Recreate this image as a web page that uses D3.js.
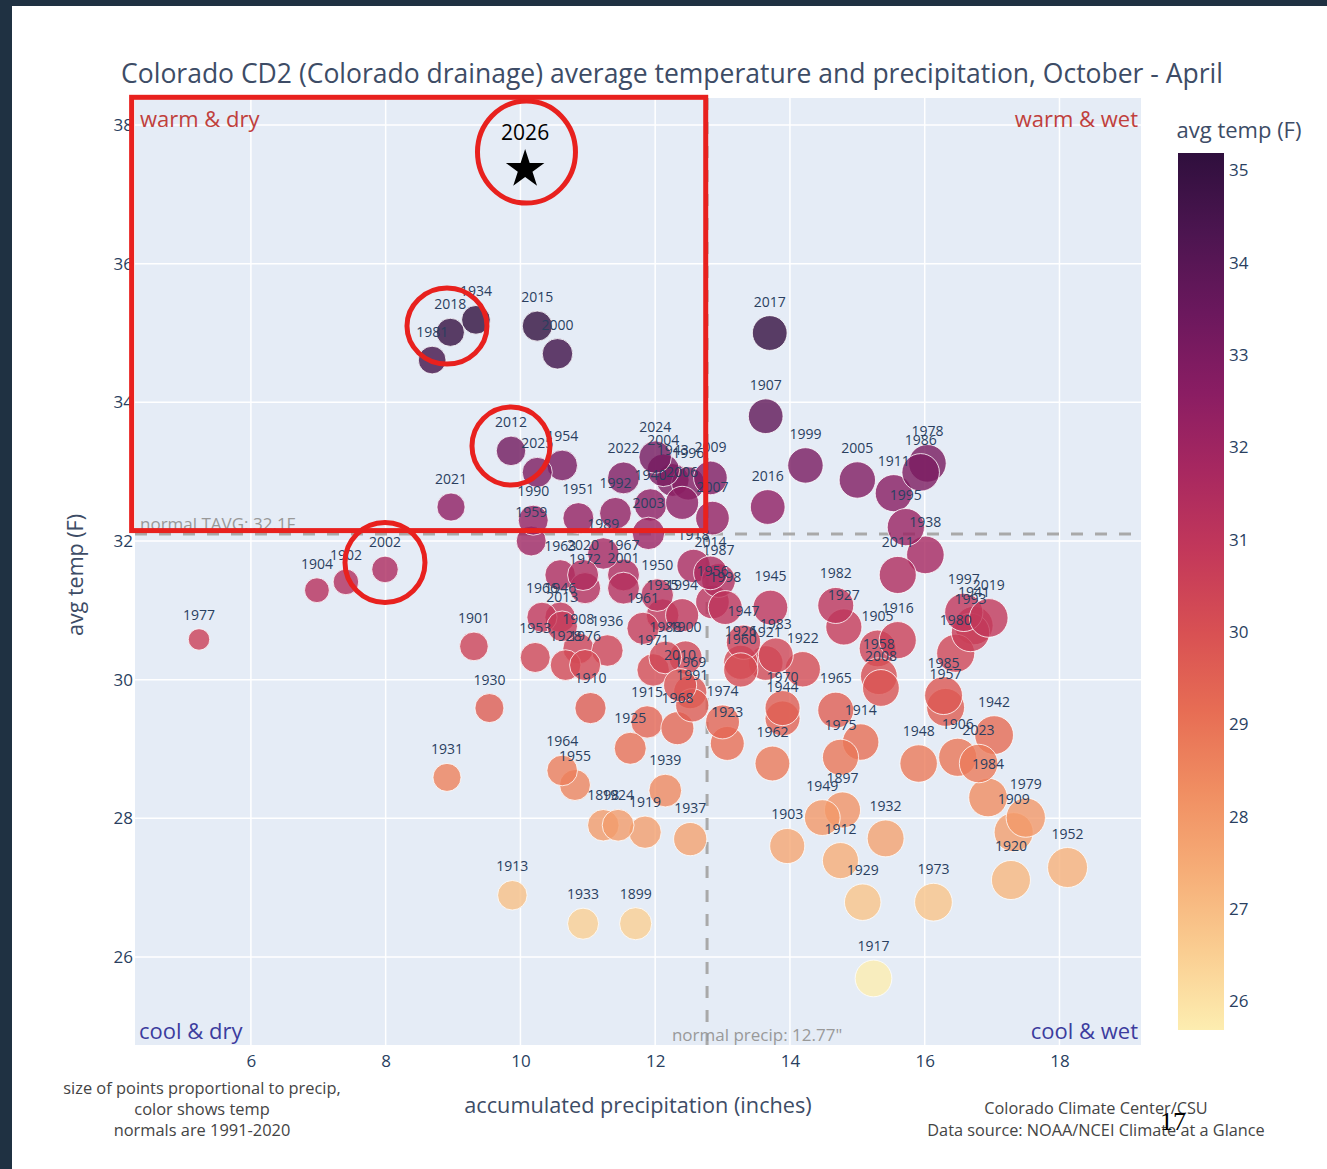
<!DOCTYPE html>
<html>
<head>
<meta charset="utf-8">
<script src="https://cdn.jsdelivr.net/npm/d3@7"></script>
<style>
  body { margin: 0; background: #fff; }
  svg { display: block; font-family: "Open Sans", sans-serif; }
</style>
</head>
<body>
<svg id="chart"></svg>
<script>
(function() {
  'use strict';

  // Season (Oct - Apr) values
  const years = [
    1897, 1898, 1899, 1900, 1901, 1902, 1903, 1904, 1905, 1906, 1907, 1908, 1909, 1910,
    1911, 1912, 1913, 1914, 1915, 1916, 1917, 1918, 1919, 1920, 1921, 1922, 1923, 1924,
    1925, 1926, 1927, 1928, 1929, 1930, 1931, 1932, 1933, 1934, 1935, 1936, 1937, 1938,
    1939, 1940, 1941, 1942, 1943, 1944, 1945, 1946, 1947, 1948, 1949, 1950, 1951, 1952,
    1953, 1954, 1955, 1956, 1957, 1958, 1959, 1960, 1961, 1962, 1963, 1964, 1965, 1966,
    1967, 1968, 1969, 1970, 1971, 1972, 1973, 1974, 1975, 1976, 1977, 1978, 1979, 1980,
    1981, 1982, 1983, 1984, 1985, 1986, 1987, 1988, 1989, 1990, 1991, 1992, 1993, 1994,
    1995, 1996, 1997, 1998, 1999, 2000, 2001, 2002, 2003, 2004, 2005, 2006, 2007, 2008,
    2009, 2010, 2011, 2012, 2013, 2014, 2015, 2016, 2017, 2018, 2019, 2020, 2021, 2022,
    2023, 2024, 2025
  ];
  const precip = [
    14.78, 11.23, 11.71, 12.45, 9.31, 7.41, 13.96, 6.98, 15.30, 16.49, 13.64, 10.86, 17.32, 11.04,
    15.54, 14.75, 9.88, 15.05, 11.88, 15.60, 15.24, 12.57, 11.85, 17.28, 13.64, 14.19, 13.07, 11.45,
    11.63, 13.27, 14.80, 10.67, 15.08, 9.54, 8.91, 15.42, 10.93, 9.34, 12.11, 11.29, 12.52, 16.01,
    12.15, 11.93, 16.73, 17.03, 12.26, 13.89, 13.71, 10.59, 13.31, 15.91, 14.48, 12.03, 10.86, 18.12,
    10.22, 10.62, 10.81, 12.85, 16.31, 15.32, 10.16, 13.27, 11.82, 13.74, 10.59, 10.62, 14.68, 10.32,
    11.53, 12.33, 12.52, 13.89, 11.97, 10.96, 16.13, 13.00, 14.75, 10.96, 5.23, 16.04, 17.50, 16.46,
    8.69, 14.68, 13.79, 16.94, 16.28, 15.94, 12.94, 12.15, 11.23, 10.19, 12.55, 11.41, 16.68, 12.40,
    15.72, 12.49, 16.58, 13.04, 14.23, 10.55, 11.53, 7.99, 11.90, 12.12, 15.00, 12.40, 12.85, 15.35,
    12.82, 12.37, 15.60, 9.86, 10.62, 12.82, 10.25, 13.67, 13.70, 8.96, 16.95, 10.93, 8.97, 11.53,
    16.80, 12.00, 10.25
  ];
  const avgTemp = [
    28.12, 27.90, 26.48, 30.32, 30.48, 31.41, 27.60, 31.29, 30.45, 28.88, 33.80, 30.45, 27.80, 29.59,
    32.69, 27.39, 26.89, 29.10, 29.39, 30.57, 25.69, 31.64, 27.80, 27.11, 30.24, 30.15, 29.08, 27.90,
    29.01, 30.25, 30.76, 30.21, 26.79, 29.59, 28.59, 27.71, 26.48, 35.19, 30.93, 30.42, 27.70, 31.80,
    28.40, 32.52, 30.78, 29.20, 32.88, 29.44, 31.04, 30.90, 30.54, 28.79, 28.01, 31.22, 32.33, 27.29,
    30.32, 33.09, 28.48, 31.12, 29.60, 30.05, 32.00, 30.14, 30.74, 28.79, 31.51, 28.69, 29.56, 30.90,
    31.51, 29.30, 29.82, 29.59, 30.14, 31.32, 26.79, 29.39, 28.88, 30.21, 30.58, 33.12, 28.01, 30.38,
    34.61, 31.07, 30.35, 28.30, 29.77, 32.99, 31.43, 30.32, 31.82, 32.30, 29.63, 32.40, 30.68, 30.93,
    32.20, 32.83, 30.97, 31.04, 33.09, 34.70, 31.32, 31.59, 32.11, 33.02, 32.88, 32.55, 32.33, 29.88,
    32.91, 29.92, 31.51, 33.30, 30.77, 31.54, 35.10, 32.49, 35.00, 35.01, 30.89, 31.51, 32.49, 32.91,
    28.79, 33.21, 32.99
  ];

  // Current season (star)
  const current = { year: 2026, precip: 10.07, temp: 37.39 };

  // Normals 1991-2020
  const normalTemp = 32.1;
  const normalPrecip = 12.77;

  const xTicks = [6, 8, 10, 12, 14, 16, 18];
  const yTicks = [26, 28, 30, 32, 34, 36, 38];
  const barTicks = [26, 27, 28, 29, 30, 31, 32, 33, 34, 35];

  // plotly "matter" colorscale
  const matter = ['rgb(253,237,176)', 'rgb(250,205,145)', 'rgb(246,173,119)', 'rgb(240,142,98)',
    'rgb(231,109,84)', 'rgb(216,80,83)', 'rgb(195,56,90)', 'rgb(168,40,96)', 'rgb(138,29,99)',
    'rgb(107,24,93)', 'rgb(76,21,80)', 'rgb(47,15,61)'];

  // Hand-drawn red highlights (in data units)
  const highlightBox = { x0: 4.23, x1: 12.75, y0: 32.15, y1: 38.4 };
  const highlightRings = [
    { x: 10.09, y: 37.61, rx: 49, ry: 51 },
    { x: 8.91, y: 35.10, rx: 40, ry: 38 },
    { x: 9.86, y: 33.37, rx: 39, ry: 39 },
    { x: 7.99, y: 31.69, rx: 40, ry: 40 }
  ];

  const WIDTH = 1327, HEIGHT = 1169;
  const plot = { left: 135, right: 1141, top: 98, bottom: 1045 };
  const FONT_COLOR = '#2a3f5f';

  const svg = d3.select('#chart')
    .attr('width', WIDTH)
    .attr('height', HEIGHT);

  // slide frame
  svg.append('rect').attr('width', WIDTH).attr('height', HEIGHT).attr('fill', '#fff');
  svg.append('rect').attr('width', WIDTH).attr('height', 6).attr('fill', '#1f3142');
  svg.append('rect').attr('width', 12).attr('height', HEIGHT).attr('fill', '#1f3142');

  const x = d3.scaleLinear().domain([4.28, 19.21]).range([plot.left, plot.right]);
  const y = d3.scaleLinear().domain([24.73, 38.39]).range([plot.bottom, plot.top]);
  const r = d3.scaleSqrt().domain([0, d3.max(precip)]).range([0, 20]);

  const tExtent = d3.extent(avgTemp);
  const color = d3.scaleLinear()
    .domain(matter.map(function(c, i) { return tExtent[0] + i * (tExtent[1] - tExtent[0]) / (matter.length - 1); }))
    .range(matter)
    .interpolate(d3.interpolateRgb);

  const points = years.map(function(yr, i) {
    return { year: yr, precip: precip[i], temp: avgTemp[i] };
  });

  // Plot background and grid
  svg.append('rect')
    .attr('x', plot.left).attr('y', plot.top)
    .attr('width', plot.right - plot.left).attr('height', plot.bottom - plot.top)
    .attr('fill', '#e5ecf6');

  const grid = svg.append('g').attr('class', 'grid');
  grid.selectAll('line.v').data(xTicks).join('line')
    .attr('class', 'v')
    .attr('x1', d => x(d)).attr('x2', d => x(d))
    .attr('y1', plot.top).attr('y2', plot.bottom)
    .attr('stroke', '#fff').attr('stroke-width', 1.5);
  grid.selectAll('line.h').data(yTicks).join('line')
    .attr('class', 'h')
    .attr('y1', d => y(d)).attr('y2', d => y(d))
    .attr('x1', plot.left).attr('x2', plot.right)
    .attr('stroke', '#fff').attr('stroke-width', 1.5);

  // Axes (d3 axes, domain path and tick lines hidden)
  const xAxis = svg.append('g')
    .attr('transform', 'translate(0,' + (plot.bottom + 4) + ')')
    .call(d3.axisBottom(x).tickValues(xTicks).tickSize(0).tickPadding(6));
  const yAxis = svg.append('g')
    .attr('transform', 'translate(' + (plot.left - 2) + ',0)')
    .call(d3.axisLeft(y).tickValues(yTicks).tickSize(0).tickPadding(0));
  [xAxis, yAxis].forEach(function(a) {
    a.select('.domain').remove();
    a.selectAll('text')
      .attr('fill', FONT_COLOR)
      .style('font-family', '"Open Sans", sans-serif')
      .style('font-size', '17px');
  });

  // Normal lines
  svg.append('line')
    .attr('x1', plot.left).attr('x2', plot.right)
    .attr('y1', y(normalTemp)).attr('y2', y(normalTemp))
    .attr('stroke', '#a9a9a9').attr('stroke-width', 3).attr('stroke-dasharray', '12,12');
  svg.append('line')
    .attr('x1', x(normalPrecip)).attr('x2', x(normalPrecip))
    .attr('y1', plot.top).attr('y2', plot.bottom)
    .attr('stroke', '#a9a9a9').attr('stroke-width', 3).attr('stroke-dasharray', '12,12');

  // Points
  svg.append('g').attr('class', 'points')
    .selectAll('circle').data(points).join('circle')
    .attr('cx', d => x(d.precip))
    .attr('cy', d => y(d.temp))
    .attr('r', d => r(d.precip))
    .attr('fill', d => color(d.temp))
    .attr('fill-opacity', 0.8)
    .attr('stroke', '#fff')
    .attr('stroke-opacity', 0.8)
    .attr('stroke-width', 1);

  svg.append('g').attr('class', 'labels')
    .selectAll('text').data(points).join('text')
    .attr('x', d => x(d.precip))
    .attr('y', d => y(d.temp) - r(d.precip) - 9)
    .attr('text-anchor', 'middle')
    .attr('fill', FONT_COLOR)
    .style('font-size', '14px')
    .text(d => d.year);

  // Current season star
  svg.append('path')
    .attr('d', d3.symbol().type(d3.symbolStar).size(460)())
    .attr('transform', 'translate(' + x(current.precip) + ',' + (y(current.temp) + 2) + ')')
    .attr('fill', '#000');
  svg.append('text')
    .attr('x', x(current.precip))
    .attr('y', y(current.temp) - 27)
    .attr('text-anchor', 'middle')
    .attr('fill', '#000')
    .style('font-size', '21px')
    .text(current.year);

  // Quadrant annotations
  const quad = [
    { t: 'warm & dry', x: plot.left + 5, y: plot.top + 29, a: 'start', c: '#c0403c' },
    { t: 'warm & wet', x: plot.right - 3, y: plot.top + 29, a: 'end', c: '#c0403c' },
    { t: 'cool & dry', x: plot.left + 4, y: plot.bottom - 6, a: 'start', c: '#3c3c9e' },
    { t: 'cool & wet', x: plot.right - 3, y: plot.bottom - 6, a: 'end', c: '#3c3c9e' }
  ];
  svg.append('g').selectAll('text').data(quad).join('text')
    .attr('x', d => d.x).attr('y', d => d.y)
    .attr('text-anchor', d => d.a)
    .attr('fill', d => d.c)
    .style('font-size', '22px')
    .text(d => d.t);

  svg.append('text')
    .attr('x', plot.left + 5).attr('y', y(normalTemp) - 4)
    .attr('fill', '#999')
    .style('font-size', '17px')
    .text('normal TAVG: 32.1F');
  svg.append('text')
    .attr('x', x(normalPrecip) + 50).attr('y', plot.bottom - 4)
    .attr('text-anchor', 'middle')
    .attr('fill', '#999')
    .style('font-size', '17px')
    .text('normal precip: 12.77"');

  // Titles
  svg.append('text')
    .attr('x', 672).attr('y', 83)
    .attr('text-anchor', 'middle')
    .attr('fill', '#3d4c66')
    .style('font-size', '26.5px')
    .text('Colorado CD2 (Colorado drainage) average temperature and precipitation, October - April');
  svg.append('text')
    .attr('x', 638).attr('y', 1113)
    .attr('text-anchor', 'middle')
    .attr('fill', '#3d4c66')
    .style('font-size', '21.7px')
    .text('accumulated precipitation (inches)');
  svg.append('text')
    .attr('transform', 'translate(83,575) rotate(-90)')
    .attr('text-anchor', 'middle')
    .attr('fill', '#3d4c66')
    .style('font-size', '21.5px')
    .text('avg temp (F)');

  // Notes
  const leftNote = ['size of points proportional to precip,', 'color shows temp', 'normals are 1991-2020'];
  svg.append('g').selectAll('text').data(leftNote).join('text')
    .attr('x', 202).attr('y', (d, i) => 1094 + i * 21)
    .attr('text-anchor', 'middle')
    .attr('fill', '#444')
    .style('font-size', '16.4px')
    .text(d => d);
  const rightNote = ['Colorado Climate Center/CSU', 'Data source: NOAA/NCEI Climate at a Glance'];
  svg.append('g').selectAll('text').data(rightNote).join('text')
    .attr('x', 1096).attr('y', (d, i) => 1114 + i * 22)
    .attr('text-anchor', 'middle')
    .attr('fill', '#444')
    .style('font-size', '16.3px')
    .text(d => d);
  svg.append('text')
    .attr('x', 1160).attr('y', 1130)
    .attr('fill', '#000')
    .style('font-family', '"Liberation Serif", serif')
    .style('font-size', '26px')
    .text('17');

  // Colorbar
  const bar = { x: 1178, w: 46, top: 153, bottom: 1030 };
  const cb = d3.scaleLinear().domain(tExtent).range([bar.bottom, bar.top]);
  const grad = svg.append('defs').append('linearGradient')
    .attr('id', 'cbar').attr('x1', 0).attr('x2', 0).attr('y1', 1).attr('y2', 0);
  grad.selectAll('stop').data(matter).join('stop')
    .attr('offset', (d, i) => i / (matter.length - 1))
    .attr('stop-color', d => d);
  svg.append('rect')
    .attr('x', bar.x).attr('y', bar.top)
    .attr('width', bar.w).attr('height', bar.bottom - bar.top)
    .attr('fill', 'url(#cbar)');
  const cbAxis = svg.append('g')
    .attr('transform', 'translate(' + (bar.x + bar.w + 5) + ',0)')
    .call(d3.axisRight(cb).tickValues(barTicks).tickSize(0).tickPadding(0));
  cbAxis.select('.domain').remove();
  cbAxis.selectAll('text')
    .attr('fill', FONT_COLOR)
    .style('font-family', '"Open Sans", sans-serif')
    .style('font-size', '17px');
  svg.append('text')
    .attr('x', 1239).attr('y', 138)
    .attr('text-anchor', 'middle')
    .attr('fill', '#3d4c66')
    .style('font-size', '22px')
    .text('avg temp (F)');

  // Red highlights
  const red = svg.append('g').attr('fill', 'none').attr('stroke', '#e8211e').attr('stroke-width', 5);
  red.append('rect')
    .attr('x', x(highlightBox.x0)).attr('y', y(highlightBox.y1))
    .attr('width', x(highlightBox.x1) - x(highlightBox.x0))
    .attr('height', y(highlightBox.y0) - y(highlightBox.y1));
  red.selectAll('ellipse').data(highlightRings).join('ellipse')
    .attr('cx', d => x(d.x)).attr('cy', d => y(d.y))
    .attr('rx', d => d.rx).attr('ry', d => d.ry);
})();
</script>
</body>
</html>
